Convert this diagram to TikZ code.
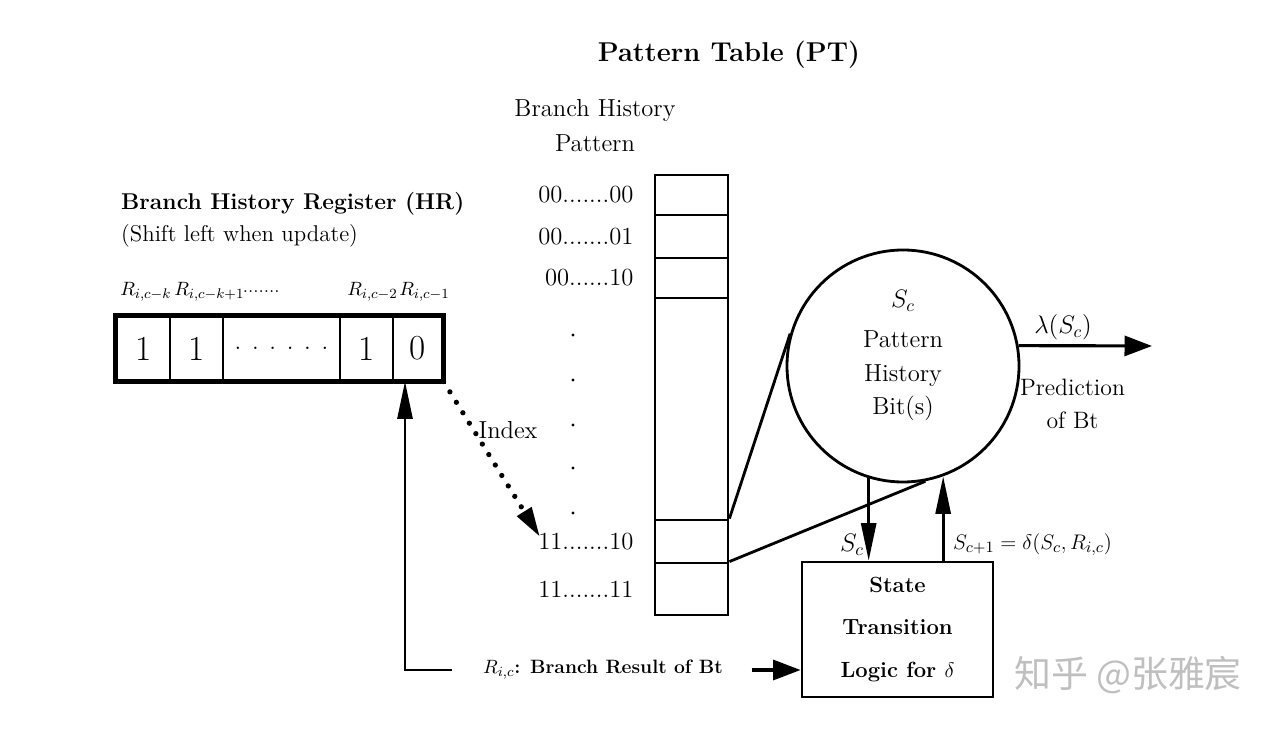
\documentclass[tikz,border=0pt]{standalone}
\usepackage{amsmath,amssymb}
\usepackage{fontspec}
\newfontfamily\cjkfont{Noto Sans CJK SC}
\usetikzlibrary{arrows.meta,calc,positioning}

\tikzset{
  cell/.style={draw,line width=1.6pt,minimum height=1.26cm,inner sep=0pt,font=\fontsize{20}{22}\selectfont},
  ptcell/.style={draw,line width=1.6pt,minimum width=1.46cm,inner sep=0pt},
  lbl/.style={font=\fontsize{14}{20}\selectfont},
  rlbl/.style={font=\fontsize{11}{14}\selectfont,anchor=west,inner sep=0pt},
  fatline/.style={line width=1.6pt},
  varrow/.style={line width=1.6pt,-{Triangle[length=0.75cm,width=0.3cm]}},
  harrow/.style={line width=1.8pt,-{Triangle[length=0.55cm,width=0.4cm]}},
  dotarrow/.style={line width=3pt,line cap=round,dash pattern=on 0pt off 7pt,-{Triangle[length=0.6cm,width=0.32cm]}},
}

\begin{document}
\begin{tikzpicture}
\useasboundingbox (0,0) rectangle (25.58,14.58);
% headings
\node[font=\fontsize{15.5}{18}\selectfont\bfseries] (pttitle) at (14.58,13.48) {Pattern Table (PT)};
\node[lbl,align=center] (bhp) at (11.9,12.07) {Branch History\\Pattern};
\node[font=\fontsize{13}{18}\selectfont,align=left,anchor=west] (hrtitle) at (2.3,10.18) {\textbf{Branch History Register (HR)}\\(Shift left when update)};
% history register
\node[rlbl] (r1) at (2.4,8.74) {$R_{i,c-k}$};
\node[rlbl] (r2) at (3.48,8.74) {$R_{i,c-k+1}$};
\node[rlbl] (r3) at (4.85,8.74) {.......};
\node[rlbl] (r4) at (6.94,8.74) {$R_{i,c-2}$};
\node[rlbl] (r5) at (7.98,8.74) {$R_{i,c-1}$};
\node[cell,minimum width=1.06cm] (hr1) at (2.87,7.61) {1};
\node[cell,minimum width=1.06cm] (hr2) at (3.93,7.61) {1};
\node[cell,minimum width=2.34cm] (hr3) at (5.63,7.61) {\fontsize{14}{16}\selectfont. . . . . .};
\node[cell,minimum width=1.06cm] (hr4) at (7.33,7.61) {1};
\node[cell,minimum width=0.98cm] (hr5) at (8.35,7.61) {0};
\draw[line width=2.4pt] (hr1.north west) rectangle (hr5.south east);
% pattern table
\node[ptcell,minimum height=0.8cm] (pt0) at (13.83,10.68) {};
\node[ptcell,minimum height=0.86cm] (pt1) at (13.83,9.85) {};
\node[ptcell,minimum height=0.8cm] (pt2) at (13.83,9.02) {};
\node[ptcell,minimum height=4.44cm] (ptmid) at (13.83,6.4) {};
\node[ptcell,minimum height=0.86cm] (ptA) at (13.83,3.75) {};
\node[ptcell,minimum height=1.04cm] (ptB) at (13.83,2.8) {};
\node[lbl,left=0.28cm of pt0] (p0) {00.......00};
\node[lbl,left=0.28cm of pt1] (p1) {00.......01};
\node[lbl,left=0.28cm of pt2] (p2) {00......10};
\node[lbl,left=0.28cm of ptA] (pA) {11.......10};
\node[lbl,left=0.28cm of ptB] (pB) {11.......11};
\foreach \y in {7.88,6.98,6.08,5.22,4.32}
  \fill (11.46,\y) circle (0.9pt);
% pattern history bits
\node[draw,circle,fatline,minimum size=4.64cm] (phb) at (18.06,7.26) {};
\node[lbl] (sc) at (18.06,8.56) {$S_c$};
\node[font=\fontsize{14}{19}\selectfont,align=center] (phbtext) at (18.06,7.06) {Pattern\\History\\Bit(s)};
\draw[fatline] (ptA.north east) -- (phb.164);
\draw[fatline] (ptB.north east) -- (phb.-79);
\coordinate (predend) at (23.04,7.66);
\draw[harrow] (phb.10) -- (predend);
\node[lbl] (lam) at (21.26,8.04) {$\lambda(S_c)$};
\node[font=\fontsize{13.5}{19}\selectfont,align=center] (pred) at (21.45,6.5) {Prediction\\of Bt};
% state transition logic
\node[draw,fatline,minimum width=3.82cm,minimum height=2.7cm,align=center,
      font=\fontsize{12.5}{24}\selectfont\bfseries] (stl) at (17.95,1.99) {State\\Transition\\Logic for $\delta$};
\draw[varrow] (phb.253.5) -- (phb.253.5 |- stl.north);
\draw[varrow] (phb.290.2 |- stl.north) -- (phb.290.2);
\node[lbl] (scdown) at (17.04,3.68) {$S_c$};
\node[font=\fontsize{12.5}{15}\selectfont,anchor=west] (scnext) at (18.94,3.68) {$S_{c+1}=\delta(S_c,R_{i,c})$};
% branch result feedback
\node[font=\fontsize{11}{12}\selectfont\bfseries] (res) at (12.06,1.18) {$R_{i,c}$: Branch Result of Bt};
\coordinate (fb) at (8.1,1.18);
\draw[varrow,shorten <=0.5cm] (res.west) -- (fb) -- (fb |- hr5.south);
\draw[harrow,shorten <=0.45cm] (res.east) -- (res -| stl.west);
% index
\coordinate (idx) at (10.8,3.84);
\draw[dotarrow] (hr5.south east) -- (idx);
\node[lbl] (index) at (10.16,5.98) {Index};
% watermark
\node[font=\cjkfont\fontsize{21}{24}\selectfont,text=gray!50] (wm) at (22.56,1.08) {知乎 @张雅宸};
\end{tikzpicture}
\end{document}
